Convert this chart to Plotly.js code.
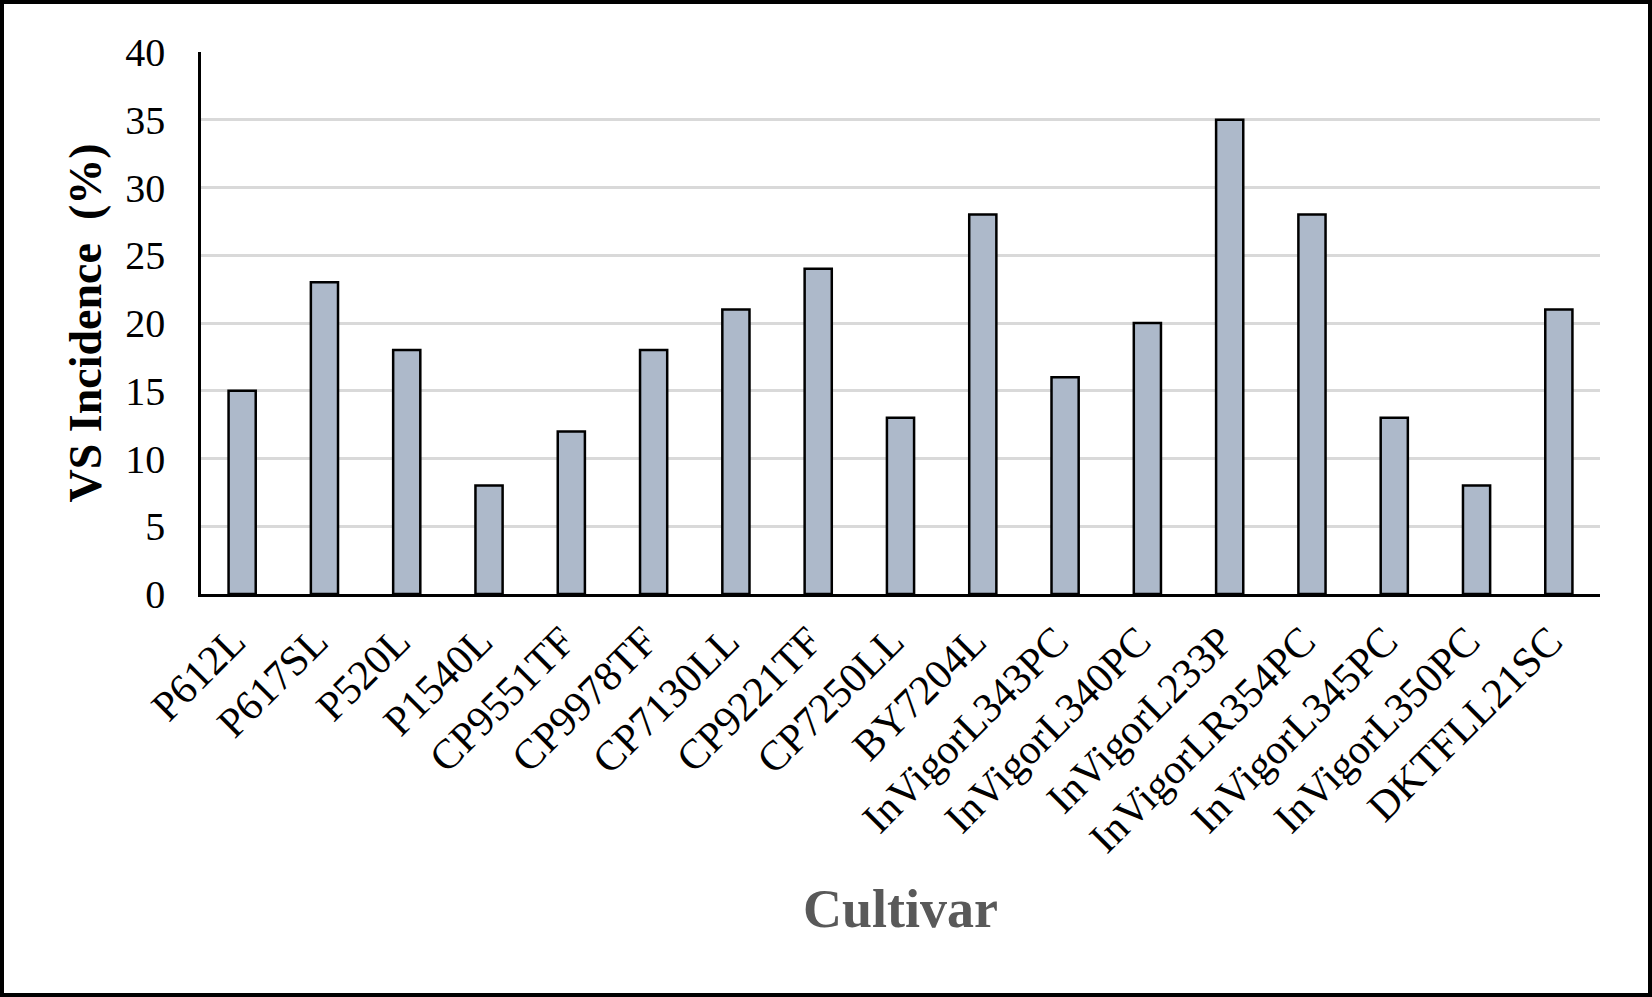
<!DOCTYPE html>
<html>
<head>
<meta charset="utf-8">
<script src="https://cdn.plot.ly/plotly-3.0.1.min.js"></script>
<style>
    html, body { margin: 0; padding: 0; background: #fff; }
    #chart { width: 1644px; height: 989px; border: 4px solid #000; }
</style>
</head>
<body>
<div id="chart"></div>
<script>
// Cultivars and VS incidence values
const cultivars = [
    'P612L', 'P617SL', 'P520L', 'P1540L', 'CP9551TF', 'CP9978TF',
    'CP7130LL', 'CP9221TF', 'CP7250LL', 'BY7204L', 'InVigorL343PC',
    'InVigorL340PC', 'InVigorL233P', 'InVigorLR354PC', 'InVigorL345PC',
    'InVigorL350PC', 'DKTFLL21SC'
];
const incidence = [15, 23, 18, 8, 12, 18, 21, 24, 13, 28, 16, 20, 35, 28, 13, 8, 21];
const yTicks = [0, 5, 10, 15, 20, 25, 30, 35, 40];

const serif = '"Liberation Serif", "Times New Roman", serif';

const trace = {
    x: cultivars,
    y: incidence,
    type: 'bar',
    marker: {
        color: '#adb9ca',
        line: { color: '#000', width: 2.5 }
    },
    hovertemplate: '<b>%{x}</b><br>VS Incidence: %{y}%<extra></extra>'
};

const layout = {
    width: 1644,
    height: 989,
    paper_bgcolor: '#fff',
    plot_bgcolor: '#fff',
    font: { family: serif, color: '#000', size: 40 },
    margin: { t: 48, b: 399, l: 197, r: 48 },
    showlegend: false,
    bargap: 0.67,
    xaxis: {
        type: 'category',
        tickangle: -45,
        tickfont: { family: serif, size: 42, color: '#000' },
        showline: true,
        linecolor: '#000',
        linewidth: 2.5,
        ticks: '',
        ticklabelstandoff: 3,
        ticklabelshift: -9,
        automargin: false,
        title: {
            text: '<b>Cultivar</b>',
            font: { family: serif, size: 54, color: '#595959' },
            standoff: 29
        }
    },
    yaxis: {
        range: [0, 40],
        tickvals: yTicks,
        tickfont: { family: serif, size: 40, color: '#000' },
        showline: true,
        linecolor: '#000',
        linewidth: 2.5,
        showgrid: true,
        gridcolor: '#d9d9d9',
        gridwidth: 2.5,
        zeroline: false,
        ticks: '',
        ticklabelstandoff: 25,
        automargin: false,
        title: {
            text: '<b>VS Incidence  (%)</b>',
            font: { family: serif, size: 46, color: '#000' },
            standoff: 10
        }
    }
};

Plotly.newPlot('chart', [trace], layout, { displayModeBar: false, responsive: false });
</script>
</body>
</html>
